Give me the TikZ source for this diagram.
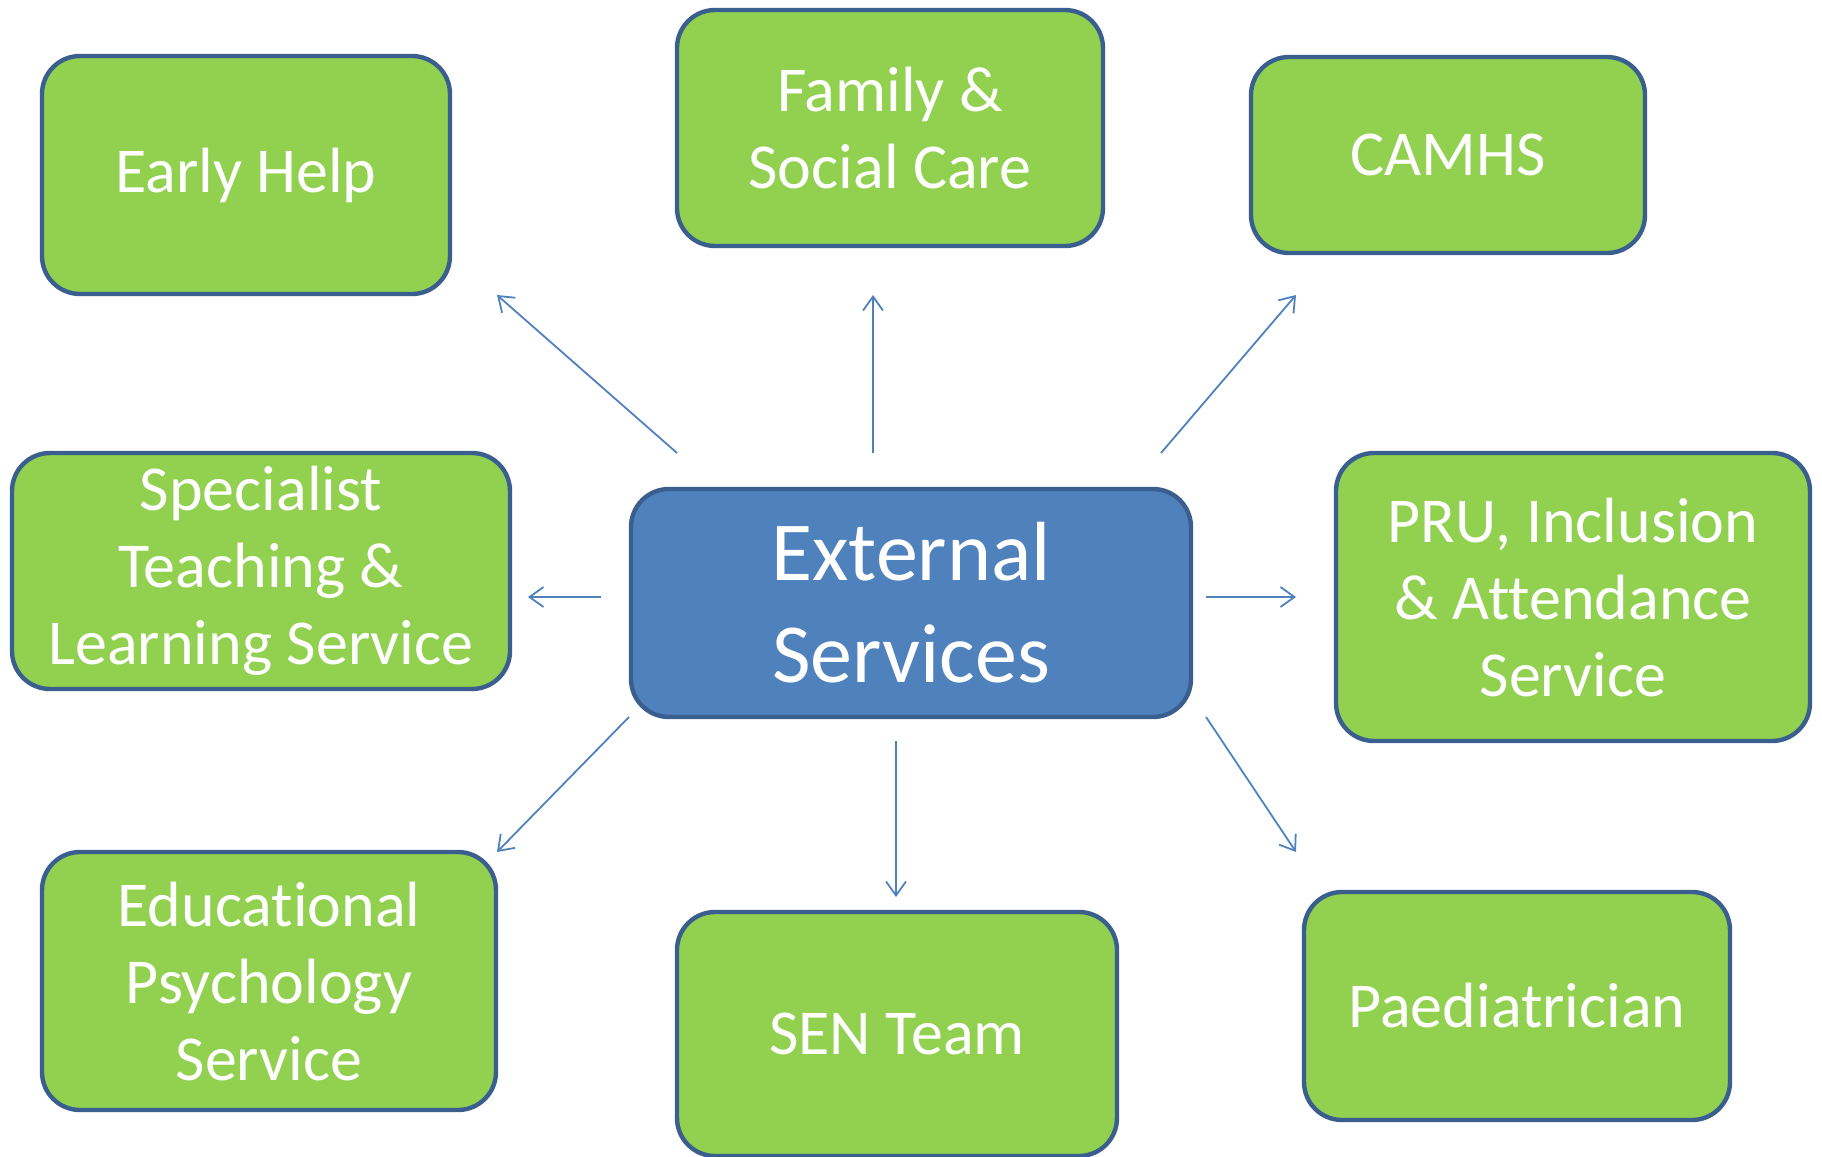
\documentclass[tikz,border=0pt]{standalone}
\usepackage{fontspec}
\setmainfont{Carlito}[Ligatures=NoCommon]
\usetikzlibrary{arrows.meta}
\definecolor{boxgreen}{HTML}{92D050}
\definecolor{boxblue}{HTML}{4F81BD}
\definecolor{edgeblue}{HTML}{3A5F8E}
\tikzset{
  service/.style={draw=edgeblue,fill=boxgreen,line width=2.2pt,rounded corners=19pt,
    text=white,align=center,font=\fontsize{32}{38.5}\selectfont},
  hub/.style={draw=edgeblue,fill=boxblue,line width=2.2pt,rounded corners=19pt,
    text=white,align=center,font=\fontsize{42}{51}\selectfont},
  link/.style={draw=boxblue,line width=0.9pt,-{Straight Barb[length=7pt,width=10pt]}}
}
\begin{document}
\begin{tikzpicture}[x=0.5pt,y=-0.5pt]
\useasboundingbox (0,0) rectangle (1822,1157);
% the hub
\node[hub,minimum width=280pt,minimum height=114pt] (ext) at (911,603) {External\\Services};
% the services round it
\node[service,minimum width=204pt,minimum height=119pt] (eh) at (246,175) {Early Help};
\node[service,minimum width=213pt,minimum height=118pt] (fsc) at (890,128) {Family \&\\Social Care};
\node[service,minimum width=197pt,minimum height=98pt] (camhs) at (1448,155) {CAMHS};
\node[service,minimum width=249pt,minimum height=118pt] (stls) at (261,571) {Specialist\\Teaching \&\\Learning Service};
\node[service,minimum width=237pt,minimum height=144pt] (pru) at (1573,597) {PRU, Inclusion\\\& Attendance\\Service};
\node[service,minimum width=227pt,minimum height=129pt] (eps) at (269,981) {Educational\\Psychology\\Service};
\node[service,minimum width=220pt,minimum height=122pt] (sen) at (897,1034) {SEN Team};
\node[service,minimum width=213pt,minimum height=114pt] (paed) at (1517,1006) {Paediatrician};
% arrow ends
\coordinate (eh-from) at (677,453);
\coordinate (eh-to) at (497,295);
\coordinate (fsc-from) at (873,453);
\coordinate (fsc-to) at (873,295);
\coordinate (camhs-from) at (1161,453);
\coordinate (camhs-to) at (1296,295);
\coordinate (stls-from) at (601,597);
\coordinate (stls-to) at (528,597);
\coordinate (pru-from) at (1206,597);
\coordinate (pru-to) at (1296,597);
\coordinate (eps-from) at (629,717);
\coordinate (eps-to) at (497,852);
\coordinate (sen-from) at (896,741);
\coordinate (sen-to) at (896,897);
\coordinate (paed-from) at (1206,717);
\coordinate (paed-to) at (1296,852);
\draw[link] (eh-from) -- (eh-to);
\draw[link] (fsc-from) -- (fsc-to);
\draw[link] (camhs-from) -- (camhs-to);
\draw[link] (stls-from) -- (stls-to);
\draw[link] (pru-from) -- (pru-to);
\draw[link] (eps-from) -- (eps-to);
\draw[link] (sen-from) -- (sen-to);
\draw[link] (paed-from) -- (paed-to);
\end{tikzpicture}
\end{document}
